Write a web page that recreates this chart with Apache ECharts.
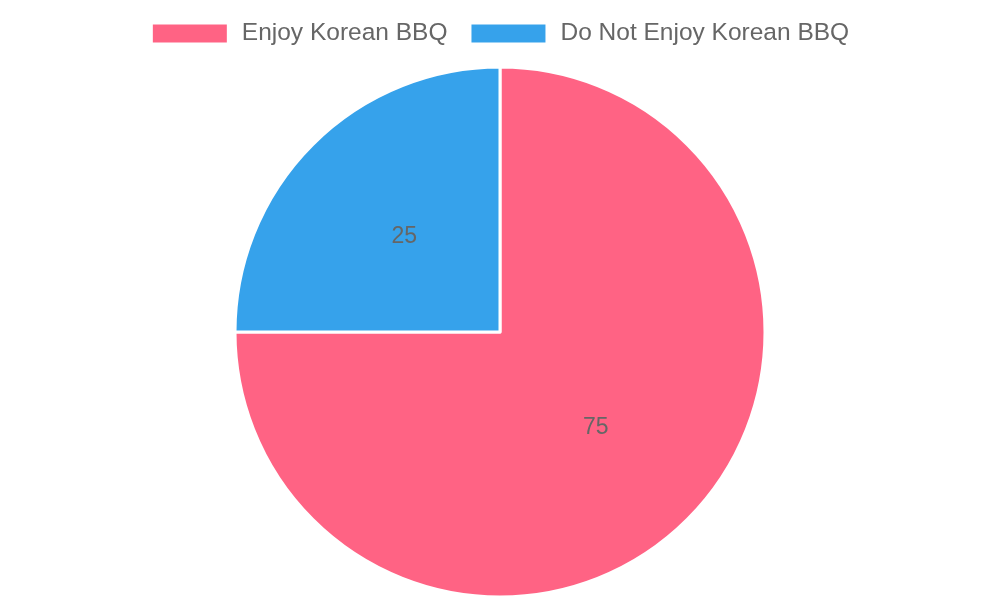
<!DOCTYPE html>
<html lang="en">
<head>
    <meta charset="UTF-8">
    <title>Korean BBQ</title>
    <script src="https://cdn.jsdelivr.net/npm/echarts@6/dist/echarts.min.js"></script>
    <style>html,body{margin:0;padding:0;background:#fff;}</style>
</head>
<body>
<div id="main" style="width: 1000px;height:600px;"></div>
<script type="text/javascript">
    var categories = ['Enjoy Korean BBQ', 'Do Not Enjoy Korean BBQ'];
    var values = [75, 25];
    var colors = ['#ff6384', '#36a2eb'];

    var myChart = echarts.init(document.getElementById('main'));

    var option = {
        color: colors,
        animation: false,
        legend: {
            top: 16,
            left: 'center',
            itemWidth: 76,
            itemHeight: 20,
            itemGap: 22,
            icon: 'rect',
            textStyle: {
                fontFamily: 'Liberation Sans, Arial, sans-serif',
                fontSize: 24.5,
                color: '#666',
                padding: [0, 0, 0, 9]
            },
            data: categories
        },
        series: [{
            type: 'pie',
            center: [500, 332],
            radius: [0, 265],
            startAngle: 90,
            clockwise: true,
            label: {
                position: 'inside',
                formatter: '{c}',
                fontFamily: 'Liberation Sans, Arial, sans-serif',
                fontSize: 23,
                color: '#666'
            },
            labelLine: { show: false },
            itemStyle: {
                borderColor: '#fff',
                borderWidth: 3
            },
            emphasis: { disabled: true },
            data: categories.map(function (c, i) {
                return { name: c, value: values[i] };
            })
        }]
    };
    myChart.setOption(option);
</script>
</body>
</html>
